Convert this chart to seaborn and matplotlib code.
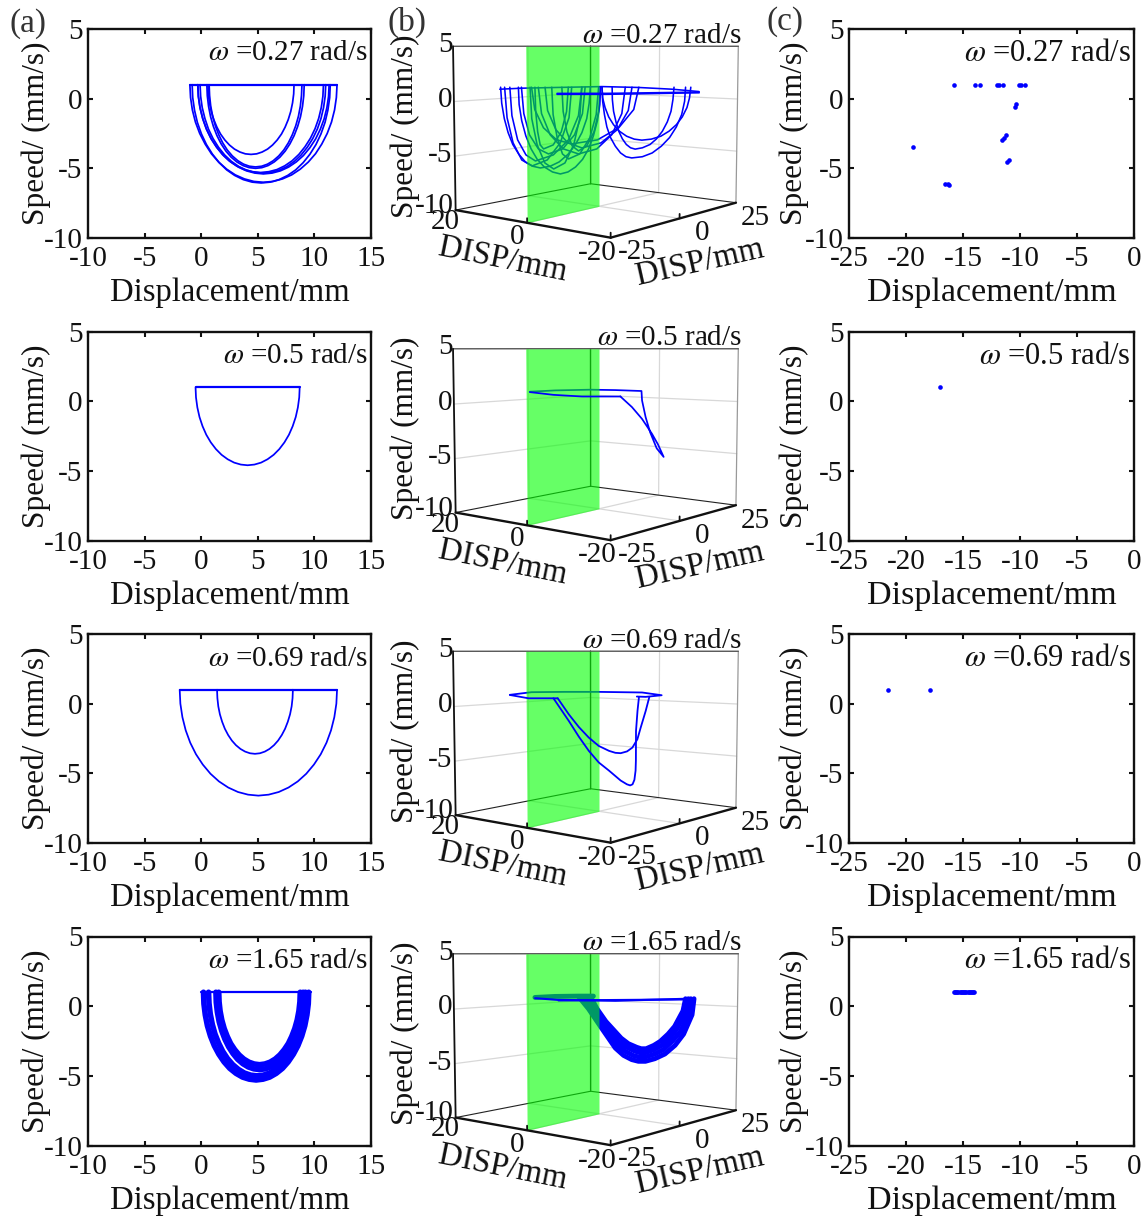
import numpy as np
import seaborn as sns
import matplotlib
matplotlib.use('Agg')
import matplotlib.pyplot as plt

W, H = 1148, 1216
FS = 21

sns.set_theme(style='ticks')
plt.rcParams['font.family'] = ['Liberation Serif', 'DejaVu Serif']
plt.rcParams['mathtext.fontset'] = 'stix'
plt.rcParams['axes.unicode_minus'] = False

freq_labels = ['0.27', '0.5', '0.69', '1.65']

# column (a): phase loops, displacement / speed (speed lists hold the falling half of each loop)
a1_top = [-1.0, 12.0]
a1_x1 = [8.2, 8.17, 8.07, 7.91, 7.69, 7.41, 7.09, 6.71, 6.3, 5.86, 5.38, 4.9, 4.4, 3.9, 3.42, 2.94, 2.5, 2.09, 1.71, 1.39, 1.11, .89, .73, .63, .6]
a1_y1 = [1, .34, -.3, -.92, -1.5, -2.05, -2.54, -2.97, -3.33, -3.62, -3.83, -3.96, -4]
a1_x2 = [9.1, 9.06, 8.95, 8.77, 8.52, 8.21, 7.84, 7.42, 6.95, 6.45, 5.91, 5.36, 4.8, 4.24, 3.69, 3.15, 2.65, 2.18, 1.76, 1.39, 1.08, .83, .65, .54, .5]
a1_y2 = [1, .21, -.55, -1.3, -2, -2.65, -3.24, -3.76, -4.2, -4.54, -4.8, -4.95, -5]
a1_x3 = [8.9, 8.86, 8.76, 8.59, 8.35, 8.05, 7.7, 7.3, 6.85, 6.37, 5.86, 5.34, 4.8, 4.26, 3.74, 3.23, 2.75, 2.3, 1.9, 1.55, 1.25, 1.01, .84, .74, .7]
a1_y3 = [1, .23, -.53, -1.26, -1.95, -2.59, -3.17, -3.68, -4.11, -4.45, -4.7, -4.85, -4.9]
a1_x4 = [10.8, 10.75, 10.61, 10.38, 10.06, 9.65, 9.17, 8.63, 8.03, 7.38, 6.69, 5.98, 5.25, 4.52, 3.81, 3.12, 2.47, 1.87, 1.33, .85, .44, .13, -.11, -.25, -.3]
a1_y4 = [1, .17, -.63, -1.41, -2.15, -2.84, -3.45, -4, -4.46, -4.82, -5.09, -5.24, -5.3]
a1_x5 = [11, 10.95, 10.81, 10.58, 10.26, 9.85, 9.37, 8.83, 8.23, 7.58, 6.89, 6.18, 5.45, 4.72, 4.01, 3.32, 2.67, 2.07, 1.53, 1.05, .64, .33, .09, -.05, -.1]
a1_y5 = [1, .17, -.64, -1.43, -2.18, -2.87, -3.49, -4.04, -4.5, -4.87, -5.13, -5.29, -5.35]
a1_x6 = [11.3, 11.25, 11.1, 10.86, 10.52, 10.1, 9.6, 9.03, 8.4, 7.72, 7, 6.26, 5.5, 4.74, 4, 3.28, 2.6, 1.97, 1.4, .9, .48, .14, -.1, -.25, -.3]
a1_y6 = [1, .16, -.66, -1.45, -2.2, -2.9, -3.52, -4.08, -4.54, -4.91, -5.18, -5.34, -5.4]
a1_x7 = [12, 11.94, 11.78, 11.51, 11.13, 10.65, 10.1, 9.46, 8.75, 7.99, 7.18, 6.35, 5.5, 4.65, 3.82, 3.01, 2.25, 1.54, .9, .35, -.13, -.51, -.78, -.94, -1]
a1_y7 = [1, .08, -.81, -1.68, -2.5, -3.26, -3.95, -4.55, -5.06, -5.47, -5.76, -5.94, -6]
a1_x8 = [11.4, 11.35, 11.19, 10.94, 10.58, 10.14, 9.61, 9.01, 8.35, 7.64, 6.88, 6.1, 5.3, 4.5, 3.72, 2.96, 2.25, 1.59, .99, .46, .02, -.34, -.59, -.75, -.8]
a1_y8 = [1, .08, -.83, -1.7, -2.53, -3.29, -3.98, -4.59, -5.11, -5.51, -5.81, -5.99, -6.05]

a2_top = [-.5, 8.7]
a2_x1 = [8.7, 8.66, 8.54, 8.35, 8.08, 7.75, 7.35, 6.9, 6.4, 5.86, 5.29, 4.7, 4.1, 3.5, 2.91, 2.34, 1.8, 1.3, .85, .45, .12, -.15, -.34, -.46, -.5]
a2_y1 = [1, .27, -.45, -1.14, -1.8, -2.41, -2.96, -3.44, -3.85, -4.17, -4.41, -4.55, -4.6]

a3_top = [-1.9, 12.0]
a3_x1 = [12, 11.94, 11.76, 11.47, 11.07, 10.56, 9.96, 9.28, 8.53, 7.71, 6.85, 5.96, 5.05, 4.14, 3.25, 2.39, 1.57, .82, .14, -.46, -.97, -1.37, -1.66, -1.84, -1.9]
a3_y1 = [1, 0, -.97, -1.91, -2.8, -3.63, -4.37, -5.03, -5.58, -6.02, -6.34, -6.53, -6.6]
a3_x2 = [8.1, 8.07, 7.99, 7.85, 7.65, 7.41, 7.12, 6.79, 6.43, 6.03, 5.62, 5.19, 4.75, 4.31, 3.88, 3.47, 3.07, 2.71, 2.38, 2.09, 1.85, 1.65, 1.51, 1.43, 1.4]
a3_y2 = [1, .4, -.19, -.76, -1.3, -1.8, -2.25, -2.65, -2.98, -3.25, -3.44, -3.56, -3.6]

a4_top = [0.0, 9.7]
a4_x1 = [9.5, 9.46, 9.34, 9.15, 8.88, 8.54, 8.14, 7.68, 7.18, 6.63, 6.05, 5.46, 4.85, 4.24, 3.65, 3.07, 2.52, 2.02, 1.56, 1.16, .82, .55, .36, .24, .2]
a4_y1 = [1, .17, -.63, -1.41, -2.15, -2.84, -3.45, -4, -4.46, -4.82, -5.09, -5.24, -5.3]
a4_x2 = [9.21, 9.17, 9.06, 8.88, 8.64, 8.32, 7.96, 7.54, 7.07, 6.57, 6.04, 5.49, 4.93, 4.37, 3.82, 3.29, 2.79, 2.32, 1.9, 1.54, 1.22, .98, .8, .69, .65]
a4_y2 = [1, .21, -.55, -1.3, -2, -2.65, -3.24, -3.76, -4.2, -4.54, -4.8, -4.95, -5]
a4_x3 = [9, 8.97, 8.87, 8.71, 8.48, 8.2, 7.87, 7.49, 7.08, 6.62, 6.15, 5.65, 5.15, 4.65, 4.15, 3.68, 3.22, 2.81, 2.43, 2.1, 1.82, 1.59, 1.43, 1.33, 1.3]
a4_y3 = [1, .27, -.44, -1.13, -1.78, -2.38, -2.92, -3.4, -3.81, -4.13, -4.36, -4.5, -4.55]
a4_x4 = [8.75, 8.72, 8.63, 8.48, 8.27, 8, 7.7, 7.34, 6.95, 6.53, 6.08, 5.62, 5.15, 4.68, 4.22, 3.77, 3.35, 2.96, 2.6, 2.3, 2.03, 1.82, 1.67, 1.58, 1.55]
a4_y4 = [1, .32, -.35, -.99, -1.6, -2.17, -2.68, -3.12, -3.5, -3.8, -4.02, -4.15, -4.2]

# column (b): trajectories, (disp1, disp2, speed); "back" runs behind the green section
b1_ring = ([22.9, 19.3, 13.6, 5.7, -.45, -6.1, -10.6], [-6.8, -3.3, 2.0, 9.4, 15.3, 20.6, 24.8],
           [.8, .9, .97, 1.06, .97, .8, .57])
b1_arc1 = ([7.7, 7.9, 8.3, 9.1, 10.2, 11.5, 13, 14.5, 16.2, 17.5, 18.7, 19.8, 20.8, 21.6, 22.2, 22.6, 22.8],
           [7.6, 7.4, 7, 6.2, 5.2, 4, 2.6, 1.1, -.4, -1.6, -2.8, -3.8, -4.8, -5.5, -6.1, -6.5, -6.6],
           [1, -.58, -2.1, -3.48, -4.66, -5.65, -6.4, -6.83, -7.0, -6.83, -6.4, -5.65, -4.66, -3.48, -2.1, -.58, 1])
b1_arc2 = ([10.8, 11.3, 12.8, 15.0, 17.6, 19.3, 20.8, 21.7, 22.1], [4.6, 4.2, 2.8, .7, -1.7, -3.4, -4.7, -5.7, -6.0],
           [1, -2.0, -4.5, -6.2, -6.8, -6.2, -4.5, -2.0, 1])
b1_arc3 = ([9.1, 9.7, 11.4, 14.0, 17.0, 18.6, 20.0, 20.9, 21.2], [6.2, 5.7, 4.1, 1.7, -1.2, -2.7, -4.0, -4.9, -5.2],
           [1, -1.8, -4.2, -5.7, -6.3, -5.7, -4.2, -1.8, 1])
b1_arc4 = ([6, 6.1, 6.5, 7.2, 8, 9, 10.2, 11.5, 12.8, 14.1, 15.5, 16.7, 17.7, 18.6, 19.3, 19.7, 19.8],
           [9.2, 9.1, 8.7, 8.1, 7.3, 6.3, 5.2, 4, 2.8, 1.5, .2, -.9, -1.9, -2.7, -3.3, -3.7, -3.8],
           [1, -.71, -2.3, -3.8, -5.1, -6.14, -6.9, -7.4, -7.6, -7.4, -6.9, -6.14, -5.1, -3.8, -2.3, -.71, 1])
b1_arc5 = ([8.6, 9.0, 10.4, 12.4, 14.8, 16.5, 18.0, 18.9, 19.3], [6.8, 6.3, 5.1, 3.2, .9, -.7, -2.1, -3.0, -3.3],
           [1, -1.6, -3.7, -5.1, -5.6, -5.1, -3.7, -1.6, 1])
b1_arc6 = ([9.1, 9.5, 10.5, 12.0, 13.9, 15.4, 16.7, 17.6, 17.8], [6.2, 5.9, 4.9, 3.5, 1.7, .3, -.9, -1.7, -2.0],
           [1, -2.1, -4.7, -6.5, -7.1, -6.5, -4.7, -2.1, 1])
b1_arc7 = ([11.4, 11.7, 12.6, 14.0, 15.6, 16.2, 16.6, 16.9, 17.0], [4.1, 3.8, 2.95, 1.7, .1, -.4, -.8, -1.1, -1.2],
           [1, -1.4, -3.4, -4.7, -5.1, -4.7, -3.4, -1.4, 1])
b1_arc8 = ([6.3, 6.7, 7.8, 9.5, 11.4, 12.4, 13.3, 14.0, 14.2], [8.9, 8.5, 7.5, 5.9, 4.1, 3.1, 2.3, 1.7, 1.5],
           [1, -1.7, -4.0, -5.6, -6.1, -5.6, -4.0, -1.7, 1])
b1_arc9 = ([6.0, 6.3, 7.1, 8.3, 9.7, 10.8, 11.7, 12.3, 12.5], [9.2, 8.9, 8.2, 7.0, 5.7, 4.7, 3.9, 3.3, 3.1],
           [1, -1.4, -3.4, -4.8, -5.3, -4.8, -3.4, -1.4, 1])
b1_arc10 = ([-8.3, -8.2, -7.7, -6.8, -5.7, -4.3, -2.8, -1.1, .7, 1.7, 2.6, 3.5, 4.3, 4.9, 5.3, 5.6, 5.7],
            [22.7, 22.5, 22.1, 21.3, 20.2, 18.9, 17.4, 15.9, 14.2, 13.3, 12.4, 11.6, 10.8, 10.2, 9.8, 9.5, 9.4],
            [1, -.38, -1.7, -2.92, -3.97, -4.83, -5.5, -5.88, -6.0, -5.88, -5.5, -4.83, -3.97, -2.92, -1.7, -.38, 1])
b1_arc11 = ([-9.2, -9, -8.6, -7.8, -6.8, -5.6, -4.2, -2.6, -1, .3, 1.6, 2.8, 3.8, 4.6, 5.2, 5.6, 5.7],
            [23.5, 23.3, 22.9, 22.2, 21.3, 20.1, 18.8, 17.3, 15.8, 14.6, 13.4, 12.2, 11.3, 10.5, 9.9, 9.5, 9.4],
            [1, -.05, -1.0, -1.93, -2.7, -3.34, -3.84, -4.13, -4.23, -4.13, -3.84, -3.34, -2.7, -1.93, -1, -.05, 1])
b1_arc12 = ([-6.4, -6.2, -5.9, -5.3, -4.5, -3.5, -2.4, -1.1, .1, .9, 1.6, 2.3, 2.9, 3.4, 3.8, 4, 4],
            [20.8, 20.7, 20.4, 19.8, 19, 18.1, 17.1, 15.9, 14.7, 14, 13.3, 12.7, 12.1, 11.7, 11.3, 11.1, 11],
            [1, -.22, -1.37, -2.42, -3.34, -4.1, -4.66, -4.99, -5.12, -4.99, -4.66, -4.1, -3.34, -2.42, -1.37, -.22, 1])
b1_arc13 = ([.7, 1.3, 3.2, 5.9, 9.1, 11.5, 13.5, 14.9, 15.3], [14.2, 13.6, 11.9, 9.3, 6.2, 4.0, 2.1, .8, .4],
            [1, -1.3, -3.2, -4.5, -5.0, -4.5, -3.2, -1.3, 1])
b1_arc14 = ([1.8, 2.4, 4.1, 6.6, 9.7, 12.3, 14.5, 15.9, 16.4], [13.1, 12.6, 11.0, 8.6, 5.7, 3.3, 1.2, -.2, -.7],
            [1, -1.6, -3.7, -5.1, -5.6, -5.1, -3.7, -1.6, 1])
b1_arc15 = ([-.45, .4, 2.9, 6.5, 10.8, 13.4, 15.6, 17.1, 17.6], [15.3, 14.5, 12.1, 8.7, 4.65, 2.2, .1, -1.2, -1.7],
            [1, -1.2, -3.0, -4.2, -4.6, -4.2, -3.0, -1.2, 1])
b1_front1 = ([-4.3, -11.3, -24.8], [-20.6, -14.0, -1.2], [1.05, 1.05, 1.16])
b1_front2 = ([-4.3, -11.3, -24.8], [-20.6, -14.0, -1.2], [.97, .97, 1.1])

b2_back = ([17.9, 13.6, 7.7, 3.5, -.9, -1.0, -1.6, -2.4, -3.5, -4.7, -3.7, -2.7, -1.0, .7, 2.7],
           [-2.0, 2.0, 7.6, 11.6, 15.7, 15.8, 16.4, 17.1, 18.2, 19.3, 18.4, 17.4, 15.8, 14.2, 12.4],
           [.8, .93, 1.0, .96, .87, -.06, -1.7, -3.2, -4.8, -5.65, -4.4, -3.35, -1.87, -.71, .34])
b2_front = ([-13.5, -7.9, -3.8, -.4], [-12.0, -17.2, -21.1, -24.3], [1.0, 1.0, 1.14, 1.37])

b3_back = ([21.2, 17.6, 12.0, 6.3, -1.0, -4.3, -1.6, -.1], [-5.2, -1.7, 3.6, 8.9, 15.8, 18.9, 16.4, 15.0],
           [.74, 1.0, 1.03, 1.03, .97, .7, .54, .57])
b3_front1 = ([2.5, -.2, -4.4], [-27.0, -24.5, -20.5], [1.34, 1.06, 1.06])
b3_front2 = ([-3.8, -6.0, -7.4, -8.9, -10.3, -11.8, -13.5, -14.4, -14.9, -15.2, -15.5, -15.7, -15.7, -15.7, -15.9, -16.1],
             [-21.1, -19.0, -17.6, -16.3, -14.9, -13.5, -11.9, -11.0, -10.6, -10.2, -10.0, -9.9, -9.8, -9.8, -9.6, -9.4],
             [1.06, -.86, -2.19, -3.4, -4.39, -5.09, -5.94, -6.27, -6.36, -6.27, -5.88, -5.09, -4.24, -1.71, 0, 1.17])
b3_front3 = ([-4.4, -6.0, -7.4, -8.9, -10.3, -11.8, -12.7, -13.5, -14.4, -15.2, -15.9, -16.4, -17.1, -17.6],
             [-20.5, -19.0, -17.6, -16.3, -14.9, -13.5, -12.6, -11.9, -11.0, -10.3, -9.6, -9.2, -8.5, -8.0],
             [1.06, -.3, -1.37, -2.27, -2.98, -3.4, -3.57, -3.6, -3.45, -3.12, -2.41, -1.42, 0, 1.17])

b4_ring = ([17.0, 13.6, 9.7, 7.2], [-1.2, 2.0, 5.7, 8.1], [.73, .83, .86, .86])
b4_band1 = ([9.7, 8.0, 6.0, 3.5, 2.1, .7, -.4, -1.6, -3.2, -4.9, -6.6, -8.0, -9.4, -9.7],
            [5.7, 7.3, 9.2, 11.6, 12.9, 14.2, 15.3, 16.4, 17.9, 19.5, 21.1, 22.5, 23.8, 24.1],
            [.83, -.39, -2.13, -4.27, -5.0, -5.42, -5.59, -5.59, -5.33, -4.86, -4.0, -2.89, -.98, .6])
b4_band2 = ([9.1, 7.6, 5.8, 3.2, 1.8, .4, -.5, -1.6, -3.2, -4.6, -6.2, -7.5, -8.9, -9.2],
            [6.3, 7.7, 9.4, 11.8, 13.2, 14.5, 15.4, 16.4, 17.9, 19.3, 20.7, 21.9, 23.3, 23.5],
            [.83, -.39, -1.97, -3.94, -4.6, -5.03, -5.16, -5.16, -4.86, -4.44, -3.55, -2.63, -.82, .6])
b4_band3 = ([8.5, 7.1, 5.5, 3.0, 1.5, .1, -.7, -1.6, -3, -4.4, -5.8, -6.9, -8.3, -8.8],
            [6.9, 8.2, 9.7, 12.1, 13.4, 14.8, 15.5, 16.4, 17.7, 19.0, 20.3, 21.4, 22.7, 23.1],
            [.83, -.39, -1.8, -3.61, -4.2, -4.6, -4.73, -4.73, -4.44, -4.01, -3.22, -2.36, -.65, .6])
b4_band4 = ([7.7, 6.6, 5.1, 2.5, 1.3, -.15, -.9, -1.7, -3, -4.1, -5.4, -6.5, -7.9, -8.3],
            [7.6, 8.7, 10.1, 12.5, 13.7, 15.0, 15.7, 16.5, 17.7, 18.7, 19.96, 21.0, 22.3, 22.7],
            [.83, -.39, -1.64, -3.29, -3.84, -4.2, -4.34, -4.34, -4.01, -3.61, -2.89, -2.13, -.59, .6])
b4_front1 = ([-1.15, -4.3, -12.7, -22.9], [-23.6, -20.6, -12.6, -3.0], [1.28, 1.14, 1.06, 1.23])
b4_front2 = ([-4.5, -22.9], [-20.4, -3.0], [1.09, 1.17])

# column (c): Poincare section points
c1_x = [-15.8, -13.95, -13.5, -12.0, -11.8, -11.5, -10.1, -9.9, -9.6, -10.35, -10.4, -11.55, -11.4, -11.25,
        -11.15, -10.95, -19.4, -16.55, -16.35, -16.2]
c1_y = [1, 1, 1, 1, 1, 1, 1, 1, 1, -.4, -.6, -3.0, -2.8, -2.6, -4.55, -4.4, -3.5, -6.15, -6.15, -6.2]
c2_x = [-17.0]
c2_y = [1]
c3_x = [-21.6, -17.9]
c3_y = [1, 1]
c4_x = [-15.8, -15.7, -15.6, -15.5, -15.4, -15.3, -15.2, -15.1, -15.0, -14.9, -14.8, -14.7, -14.6, -14.5, -14.4,
        -14.3, -14.2, -14.1, -14.0]
c4_y = [1, 1, 1, 1, 1, 1, 1, 1, 1, 1, 1, 1, 1, 1, 1, 1, 1, 1, 1]

a_rows = [
    (a1_top, [(a1_x1, a1_y1), (a1_x2, a1_y2), (a1_x3, a1_y3), (a1_x4, a1_y4), (a1_x5, a1_y5), (a1_x6, a1_y6), (a1_x7, a1_y7), (a1_x8, a1_y8)]),
    (a2_top, [(a2_x1, a2_y1)]),
    (a3_top, [(a3_x1, a3_y1), (a3_x2, a3_y2)]),
    (a4_top, [(a4_x1, a4_y1), (a4_x2, a4_y2), (a4_x3, a4_y3), (a4_x4, a4_y4)]),
]
a_widths = [1.25, 1.25, 1.25, 4.0]
b_back = [
    [b1_ring, b1_arc1, b1_arc2, b1_arc3, b1_arc4, b1_arc5, b1_arc6, b1_arc7, b1_arc8, b1_arc9,
     b1_arc10, b1_arc11, b1_arc12, b1_arc13, b1_arc14, b1_arc15],
    [b2_back],
    [b3_back],
    [b4_ring, b4_band1, b4_band2, b4_band3, b4_band4],
]
b_front = [[b1_front1, b1_front2], [b2_front], [b3_front1, b3_front2, b3_front3], [b4_front1, b4_front2]]
b_widths = [1.15, 1.25, 1.3, 3.5]
c_rows = [(c1_x, c1_y), (c2_x, c2_y), (c3_x, c3_y), (c4_x, c4_y)]

row_step = 302.5


def px_text(fig, x, y, s, **kw):
    kw.setdefault('ha', 'center')
    kw.setdefault('va', 'center')
    kw.setdefault('fontsize', FS)
    kw.setdefault('color', '#111111')
    return fig.text(x / W, 1 - y / H, s, **kw)


def style_2d(ax, xlim, xticks, xsize, pad):
    ax.set_xlim(*xlim)
    ax.set_ylim(-10, 5)
    ax.set_xticks(xticks)
    ax.set_yticks([-10, -5, 0, 5])
    ax.tick_params(direction='in', top=True, right=True, length=3.5, width=1.5, labelsize=FS, pad=4, colors='#111111')
    ax.tick_params(axis='x', pad=6)
    for sp in ax.spines.values():
        sp.set_linewidth(1.7)
        sp.set_color('#111111')
    ax.set_xlabel('Displacement/mm', fontsize=xsize, labelpad=4, color='#111111')
    ax.set_ylabel('Speed/ (mm/s)', fontsize=22.5, labelpad=pad, color='#111111')


def box_lines(ax):
    x0, x1, y0, y1, z0, z1 = 20, -20, -25, 25, -10, 5
    grey = '#d8d8d8'
    for z in [0, -5]:
        ax.plot([x0, x0], [y0, y1], [z, z], color=grey, lw=.9, zorder=1)
        ax.plot([x0, x1], [y1, y1], [z, z], color=grey, lw=.9, zorder=1)
    ax.plot([0, 0], [y1, y1], [z0, z1], color=grey, lw=.9, zorder=1)
    ax.plot([x0, x0], [0, 0], [z0, z1], color=grey, lw=.9, zorder=1)
    ax.plot([0, 0], [y0, y1], [z0, z0], color=grey, lw=.9, zorder=1)
    ax.plot([x0, x1], [0, 0], [z0, z0], color=grey, lw=.9, zorder=1)
    ax.plot([x1, x1], [y1, y1], [z0, z1], color='#999999', lw=.9, zorder=1)
    ax.plot([x0, x0], [y1, y1], [z0, z1], color='#222222', lw=1.0, zorder=1)
    ax.plot([x0, x0], [y0, y1], [z0, z0], color='#222222', lw=.8, zorder=1)
    ax.plot([x0, x1], [y1, y1], [z0, z0], color='#222222', lw=.8, zorder=1)
    ax.plot([x0, x0], [y0, y1], [z1, z1], color='#555555', lw=1.0, zorder=1)
    ax.plot([x0, x1], [y1, y1], [z1, z1], color='#555555', lw=1.0, zorder=1)
    ax.plot([x0, x0], [y0, y0], [z0, z1], color='#111111', lw=1.3, zorder=5)
    ax.plot([x0, x1], [y0, y0], [z0, z0], color='#111111', lw=1.7, zorder=5)
    ax.plot([x1, x1], [y0, y1], [z0, z0], color='#111111', lw=1.7, zorder=5)
    for x in [0, -20]:
        ax.plot([x, x], [y0, y0], [z0, z0 + .4], color='#111111', lw=1.3, zorder=5)
    ax.plot([x1, x1], [0, 0], [z0, z0 + .4], color='#111111', lw=1.3, zorder=5)


fig = plt.figure(figsize=(W / 100, H / 100), dpi=100)
AX_X = [88, 849]
AX_W = [283, 285]
AX_H = 209

for r in range(4):
    dy = row_step * r
    top = 29 + dy
    # (a)
    ax = fig.add_axes([AX_X[0] / W, 1 - (top + AX_H) / H, AX_W[0] / W, AX_H / H])
    for xs, ys in a_rows[r][1]:
        sns.lineplot(x=xs, y=ys + ys[-2::-1], sort=False, estimator=None, color='blue', lw=a_widths[r], ax=ax)
    sns.lineplot(x=a_rows[r][0], y=[1, 1], sort=False, estimator=None, color='blue', lw=1.6, ax=ax)
    style_2d(ax, (-10, 15), [-10, -5, 0, 5, 10, 15], 23.5, -5)
    px_text(fig, 368, top + 24.5, '$\\omega$ =%s rad/s' % freq_labels[r], ha='right')

    # (b)
    S = 318
    cy = 127 + dy
    ax3 = fig.add_axes([(599 - .5135 * S) / W, 1 - (cy + .5135 * S) / H, S / W, S / H],
                       projection='3d', computed_zorder=False)
    ax3.set_proj_type('persp', focal_length=.5)
    ax3.set_box_aspect((1.21, 1.30, 1), zoom=1)
    ax3.view_init(elev=5.4, azim=-51)
    ax3.set_xlim(20, -20)
    ax3.set_ylim(-25, 25)
    ax3.set_zlim(-10, 5)
    ax3.set_axis_off()
    ax3.patch.set_alpha(0)
    box_lines(ax3)
    for xs, ys, zs in b_back[r]:
        ax3.plot(xs, ys, zs, color='blue', lw=b_widths[r], zorder=2)
    ax3.plot_surface(np.array([[0, 0], [0, 0]]), np.array([[-25, 0], [-25, 0]]), np.array([[-10, -10], [5, 5]]),
                     color=(0, 1, 0), alpha=.6, shade=False, linewidth=0, zorder=3)
    for xs, ys, zs in b_front[r]:
        ax3.plot(xs, ys, zs, color='blue', lw=min(b_widths[r], 1.5), zorder=4)
    ax3.set_xlim(20, -20)
    ax3.set_ylim(-25, 25)
    ax3.set_zlim(-10, 5)

    px_text(fig, 445, 45 + dy, '5')
    px_text(fig, 445, 100 + dy, '0')
    px_text(fig, 440, 155 + dy, '-5')
    px_text(fig, 434, 206 + dy, '-10')
    px_text(fig, 445, 222 + dy, '20')
    px_text(fig, 517, 237 + dy, '0')
    px_text(fig, 597, 253 + dy, '-20')
    px_text(fig, 637, 252 + dy, '-25')
    px_text(fig, 702, 233 + dy, '0')
    px_text(fig, 755, 218 + dy, '25')
    px_text(fig, 405, 126 + dy, 'Speed/ (mm/s)', rotation=90, fontsize=22.5)
    px_text(fig, 503, 260 + dy, 'DISP/mm', rotation=-11.4, fontsize=23.5)
    px_text(fig, 700, 263 + dy, 'DISP/mm', rotation=12.6, fontsize=23.5)
    px_text(fig, 742, 36 + dy, '$\\omega$ =%s rad/s' % freq_labels[r], ha='right')

    # (c)
    ax = fig.add_axes([AX_X[1] / W, 1 - (top + AX_H) / H, AX_W[1] / W, AX_H / H])
    sns.scatterplot(x=c_rows[r][0], y=c_rows[r][1], color='blue', s=11, linewidth=0, ax=ax)
    style_2d(ax, (-25, 0), [-25, -20, -15, -10, -5, 0], 24.5, -3.5)
    px_text(fig, 1131, top + 24.5, '$\\omega$ =%s rad/s' % freq_labels[r], ha='right', fontsize=22)

px_text(fig, 28, 24, '(a)', color='#333333', fontsize=24)
px_text(fig, 407, 22, '(b)', color='#333333', fontsize=24)
px_text(fig, 785, 22, '(c)', color='#333333', fontsize=24)

fig.savefig('out.png', dpi=100)
